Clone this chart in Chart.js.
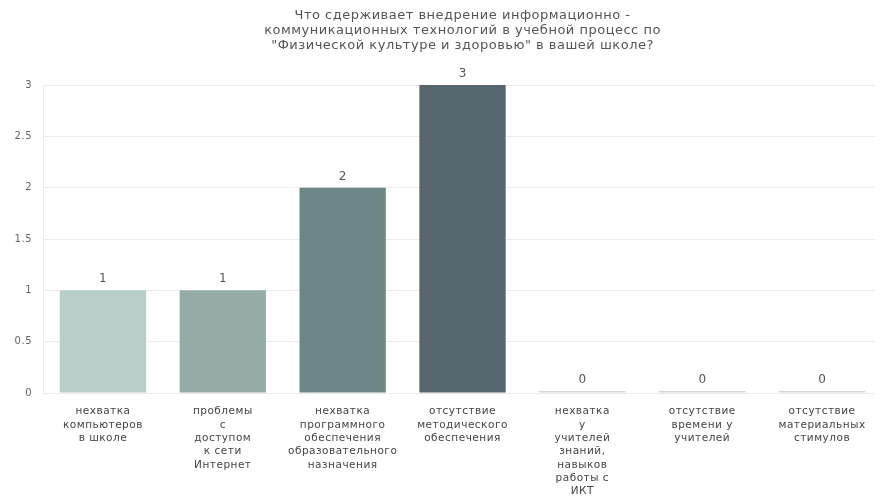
<!DOCTYPE html>
<html>
<head>
<meta charset="utf-8">
<script src="https://cdn.jsdelivr.net/npm/chart.js@4"></script>
<style>
html,body{margin:0;padding:0;background:#fff;overflow:hidden;}
canvas{display:block;}
</style>
</head>
<body>
<canvas id="c" width="882" height="498"></canvas>
<script>
const titleLines = [
  "Что сдерживает внедрение информационно -",
  "коммуникационных технологий в учебной процесс по",
  "\"Физической культуре и здоровью\" в вашей школе?"
];
const categories = [
  ["нехватка","компьютеров","в школе"],
  ["проблемы","с","доступом","к сети","Интернет"],
  ["нехватка","программного","обеспечения","образовательного","назначения"],
  ["отсутствие","методического","обеспечения"],
  ["нехватка","у","учителей","знаний,","навыков","работы с","ИКТ"],
  ["отсутствие","времени у","учителей"],
  ["отсутствие","материальных","стимулов"]
];
const values = [1, 1, 2, 3, 0, 0, 0];
const barColors = ["#b8cecb","#95aba8","#6c8886","#56656e","#d6d6d6","#d6d6d6","#d6d6d6"];
const yTicks = [0, 0.5, 1, 1.5, 2, 2.5, 3];

const FONT = '"DejaVu Sans", Verdana, sans-serif';

const spacing = {
  id: 'spacing',
  beforeDraw(chart) { chart.ctx.letterSpacing = '0.5px'; }
};

const valueLabels = {
  id: 'valueLabels',
  afterDatasetsDraw(chart) {
    const ctx = chart.ctx;
    const meta = chart.getDatasetMeta(0);
    ctx.save();
    ctx.letterSpacing = '0px';
    ctx.font = '12px ' + FONT;
    ctx.fillStyle = '#555';
    ctx.textAlign = 'center';
    ctx.textBaseline = 'middle';
    meta.data.forEach((el, i) => {
      const top = Math.min(el.y, el.base);
      ctx.fillText(String(chart.data.datasets[0].data[i]), el.x, top - 11);
    });
    ctx.restore();
  }
};

new Chart(document.getElementById('c'), {
  type: 'bar',
  data: {
    labels: categories,
    datasets: [{
      data: values,
      backgroundColor: barColors,
      barPercentage: 0.72,
      categoryPercentage: 1,
      minBarLength: 2
    }]
  },
  options: {
    responsive: false,
    animation: false,
    layout: { padding: 0 },
    plugins: {
      legend: { display: false },
      tooltip: { enabled: false },
      title: {
        display: true,
        fullSize: false,
        text: titleLines,
        color: '#555',
        font: { family: FONT, size: 13, weight: 'normal', lineHeight: '15px' },
        padding: { top: 8, bottom: 32 }
      }
    },
    scales: {
      x: {
        grid: { display: false },
        border: { display: false },
        ticks: {
          color: '#444',
          maxRotation: 0,
          autoSkip: false,
          padding: 4,
          font: { family: FONT, size: 10.5, lineHeight: '13.3px' }
        },
        afterFit(s) { s.height = 105; }
      },
      y: {
        min: 0,
        max: 3,
        afterBuildTicks(s) { s.ticks = yTicks.map(v => ({ value: v })); },
        grid: { color: '#ebebeb', drawTicks: false },
        border: { display: true, color: '#ebebeb' },
        ticks: {
          color: '#666',
          padding: 11,
          font: { family: FONT, size: 10 },
          callback: v => String(v)
        },
        afterFit(s) { s.width = 43; }
      }
    }
  },
  plugins: [spacing, valueLabels]
});
</script>
</body>
</html>
